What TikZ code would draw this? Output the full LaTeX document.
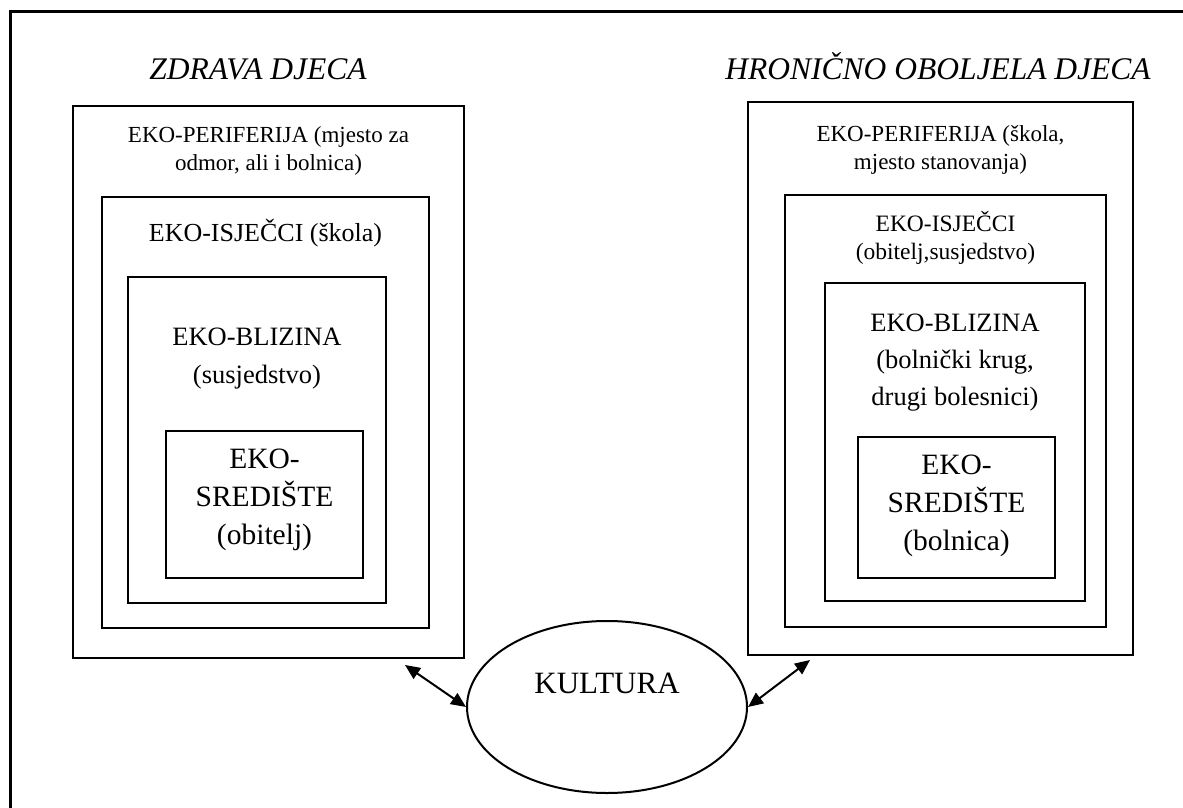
\documentclass[tikz,border=0pt]{standalone}
\usepackage{fontspec}
\setmainfont{Liberation Serif}
\usetikzlibrary{arrows.meta,positioning,shapes.geometric}

\newcommand{\smallsz}{\fontsize{23}{28}\selectfont}
\newcommand{\midsz}{\fontsize{26.5}{38}\selectfont}
\newcommand{\coresz}{\fontsize{29.5}{38}\selectfont}

\begin{document}
\begin{tikzpicture}[
    x = 1pt, y = -1pt, % work in pixels, y downwards
    box/.style = {draw, line width=2pt, inner sep=0pt},
    txt/.style = {inner sep=0pt, align=center, font=\smallsz},
    ttl/.style = {inner sep=0pt, anchor=base, font=\fontsize{31.5}{36}\selectfont\itshape},
    link/.style = {{Triangle[length=15pt,width=13pt]}-{Triangle[length=15pt,width=13pt]},
                   line width=2pt}
    ]
    \useasboundingbox (0,0) rectangle (1183,808);

    % frame (cut off at right and bottom)
    \draw[line width=3pt] (1210,12) -- (10,12) -- (10,830);

    % healthy children
    \node[ttl] (ltitle) at (258,80) {ZDRAVA DJECA};
    \node[box, minimum width=391pt, minimum height=552pt] (lperi) at (268.5,382) {};
    \node[box, minimum width=327pt, minimum height=431pt] (lisj)  at (265.5,412.5) {};
    \node[box, minimum width=258pt, minimum height=326pt] (lbliz) at (257,440) {};
    \node[box, minimum width=197pt, minimum height=147pt] (lsred) at (264.5,504.5) {};

    \node[txt, below=21pt of lperi.north] (lperitxt) {EKO-PERIFERIJA (mjesto za\\odmor, ali i bolnica)};
    \node[txt, font=\fontsize{26}{30}\selectfont, below=23pt of lisj.north] (lisjtxt) {EKO-ISJEČCI (škola)};
    \node[txt, font=\midsz, below=52pt of lbliz.north] (lbliztxt) {EKO-BLIZINA\\(susjedstvo)};
    \node[txt, font=\coresz, below=19pt of lsred.north] (lsredtxt) {EKO-\\SREDIŠTE\\(obitelj)};

    % chronically ill children
    \node[ttl] (rtitle) at (938,80) {HRONIČNO OBOLJELA DJECA};
    \node[box, minimum width=385pt, minimum height=553pt] (rperi) at (940.5,378.5) {};
    \node[box, minimum width=321pt, minimum height=432pt] (risj)  at (945.5,411) {};
    \node[box, minimum width=260pt, minimum height=318pt] (rbliz) at (955,442) {};
    \node[box, minimum width=197pt, minimum height=141pt] (rsred) at (956.5,507.5) {};

    \node[txt, below=24pt of rperi.north] (rperitxt) {EKO-PERIFERIJA (škola,\\mjesto stanovanja)};
    \node[txt, font=\fontsize{23.5}{28}\selectfont, below=17pt of risj.north] (risjtxt) {EKO-ISJEČCI\\(obitelj,susjedstvo)};
    \node[txt, font=\fontsize{26.5}{37}\selectfont, below=32pt of rbliz.north] (rbliztxt) {EKO-BLIZINA\\(bolnički krug,\\drugi bolesnici)};
    \node[txt, font=\coresz, below=18.5pt of rsred.north] (rsredtxt) {EKO-\\SREDIŠTE\\(bolnica)};

    % culture
    \node[ellipse, draw, line width=2pt, inner sep=0pt,
          minimum width=280pt, minimum height=172pt] (kult) at (607,707) {};
    \node[inner sep=0pt, font=\fontsize{31}{36}\selectfont] (kulttxt)
          at ([yshift=24pt]kult.center) {KULTURA};

    \coordinate (lend) at (405,665);
    \coordinate (rend) at (810,660);
    \draw[link] (lend) -- (kult.west);
    \draw[link] (kult.east) -- (rend);
\end{tikzpicture}
\end{document}
